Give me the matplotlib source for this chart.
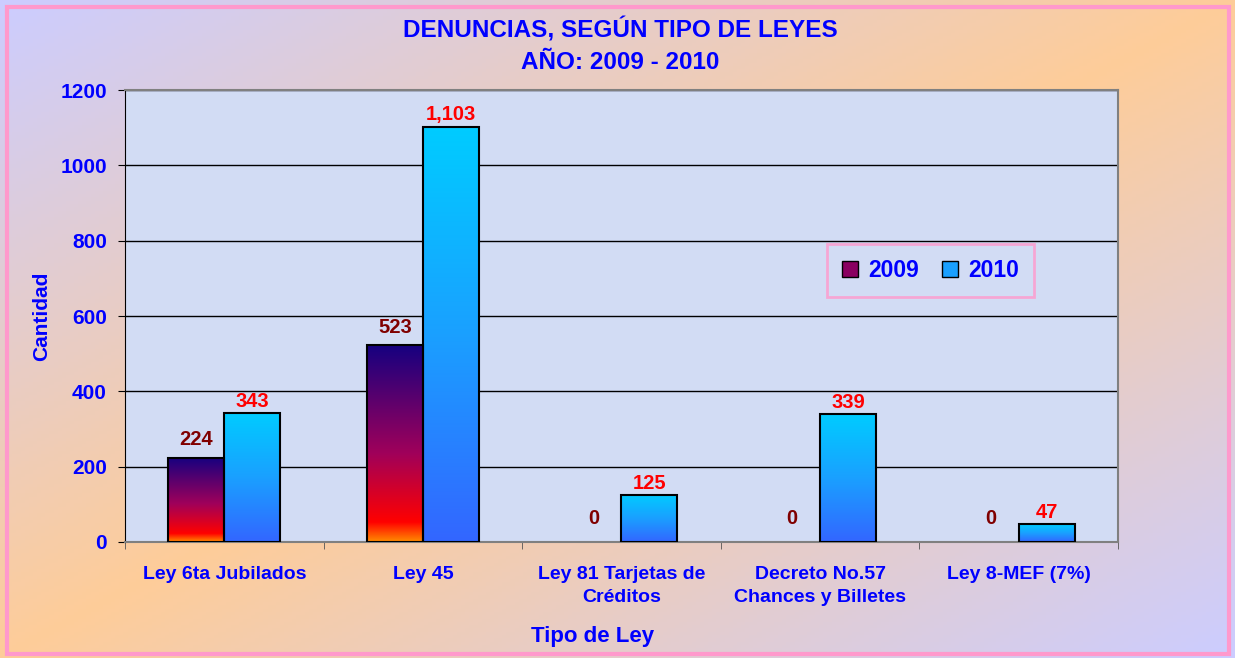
import numpy as np
import matplotlib.pyplot as plt
from matplotlib.colors import LinearSegmentedColormap
from matplotlib.patches import Rectangle, Patch

categorias = ['Ley 6ta Jubilados', 'Ley 45', 'Ley 81 Tarjetas de\nCréditos',
              'Decreto No.57\nChances y Billetes', 'Ley 8-MEF (7%)']
valores_2009 = [224, 523, 0, 0, 0]
valores_2010 = [343, 1103, 125, 339, 47]
anios = ['2009', '2010']

plt.rcParams['font.family'] = ['Liberation Sans', 'DejaVu Sans']
plt.rcParams['font.weight'] = 'bold'
AZUL = '#0000ff'

fig = plt.figure(figsize=(12.35, 6.58), dpi=100)

# fondo degradado de la figura
bg = fig.add_axes([0, 0, 1, 1], zorder=-10)
gx, gy = np.meshgrid(np.linspace(0, 1, 300), np.linspace(0, 1, 200))
t = (gx + gy) / 2
cmap_bg = LinearSegmentedColormap.from_list('bg', ['#ccccff', '#fecc99', '#ccccff'])
bg.imshow(t, cmap=cmap_bg, aspect='auto', extent=[0, 1, 0, 1], origin='upper')
bg.add_patch(Rectangle((0.006, 0.006), 0.989, 0.983, fill=False, edgecolor='#ff99cc',
                       linewidth=3, transform=bg.transAxes))
bg.set_xlim(0, 1)
bg.set_ylim(0, 1)
bg.axis('off')

ax = fig.add_axes([0.1012, 0.1763, 0.804, 0.6869])
ax.set_facecolor('#d2dcf4')

cmap_09 = LinearSegmentedColormap.from_list('c09', [(0, '#ff8c00'), (0.1, '#ff0000'),
                                                   (0.45, '#a0005a'), (1, '#160080')])
cmap_10 = LinearSegmentedColormap.from_list('c10', ['#3366ff', '#1aa0ff', '#00ccff'])
grad = np.linspace(0, 1, 256).reshape(-1, 1)

ancho = 0.282
x = np.arange(len(categorias))
for vals, cm, col_txt, off, dy in [(valores_2009, cmap_09, '#800000', -ancho / 2, 6),
                                   (valores_2010, cmap_10, '#ff0000', ancho / 2, 1.5)]:
    for xi, v in zip(x + off, vals):
        if v > 0:
            ax.bar(xi, v, ancho, facecolor='none', edgecolor='black', linewidth=1.5, zorder=4)
            ax.imshow(grad, cmap=cm, aspect='auto', origin='lower',
                      extent=[xi - ancho / 2, xi + ancho / 2, 0, v], zorder=3)
        ax.annotate(f'{v:,}', (xi, v), xytext=(0, dy if v > 0 else 10),
                    textcoords='offset points', ha='center', va='bottom',
                    color=col_txt, fontsize=14.5, fontweight='bold', zorder=5)

ax.set_xlim(-0.5, len(categorias) - 0.5)
ax.set_ylim(0, 1200)
ax.yaxis.grid(True, color='black', linewidth=1)
ax.set_axisbelow(True)
ax.set_yticks(range(0, 1201, 200))
ax.set_xticks(x)
ax.set_xticklabels(categorias, color=AZUL, fontsize=14, fontweight='bold', linespacing=1.5)
ax.set_xticks(np.arange(-0.5, len(categorias)), minor=True)
ax.tick_params(axis='x', which='major', length=0, pad=17)
ax.tick_params(axis='x', which='minor', length=5, color='#555555')
ax.tick_params(axis='y', length=5, labelsize=15, labelcolor=AZUL, pad=8)
for lab in ax.get_yticklabels():
    lab.set_fontweight('bold')

for s in ['top', 'right', 'bottom']:
    ax.spines[s].set_color('#808080')
    ax.spines[s].set_linewidth(1.5)
ax.spines['left'].set_color('black')

ax.set_ylabel('Cantidad', color=AZUL, fontsize=15, fontweight='bold')
ax.yaxis.set_label_coords(-0.074, 0.5)
ax.set_xlabel('Tipo de Ley', color=AZUL, fontsize=16, fontweight='bold')
ax.xaxis.set_label_coords(0.471, -0.185)

fig.text(0.502, 0.954, 'DENUNCIAS, SEGÚN TIPO DE LEYES', ha='center', va='center',
         color=AZUL, fontsize=17.5, fontweight='bold')
fig.text(0.502, 0.905, 'AÑO: 2009 - 2010', ha='center', va='center',
         color=AZUL, fontsize=17.5, fontweight='bold')

handles = [Patch(facecolor='#8a0060', edgecolor='black', label=anios[0]),
           Patch(facecolor='#1aa0ff', edgecolor='black', label=anios[1])]
leg = ax.legend(handles=handles, loc='center', bbox_to_anchor=(0.811, 0.601), ncol=2,
                frameon=True, fancybox=False, handlelength=0.7, handleheight=0.7,
                columnspacing=1.0, handletextpad=0.45, borderpad=0.65,
                prop={'size': 16.5, 'weight': 'bold'})
leg.get_frame().set_edgecolor('#ff99cc')
leg.get_frame().set_linewidth(2)
leg.get_frame().set_facecolor('none')
for txt in leg.get_texts():
    txt.set_color(AZUL)

fig.savefig('out.png', dpi=100)
